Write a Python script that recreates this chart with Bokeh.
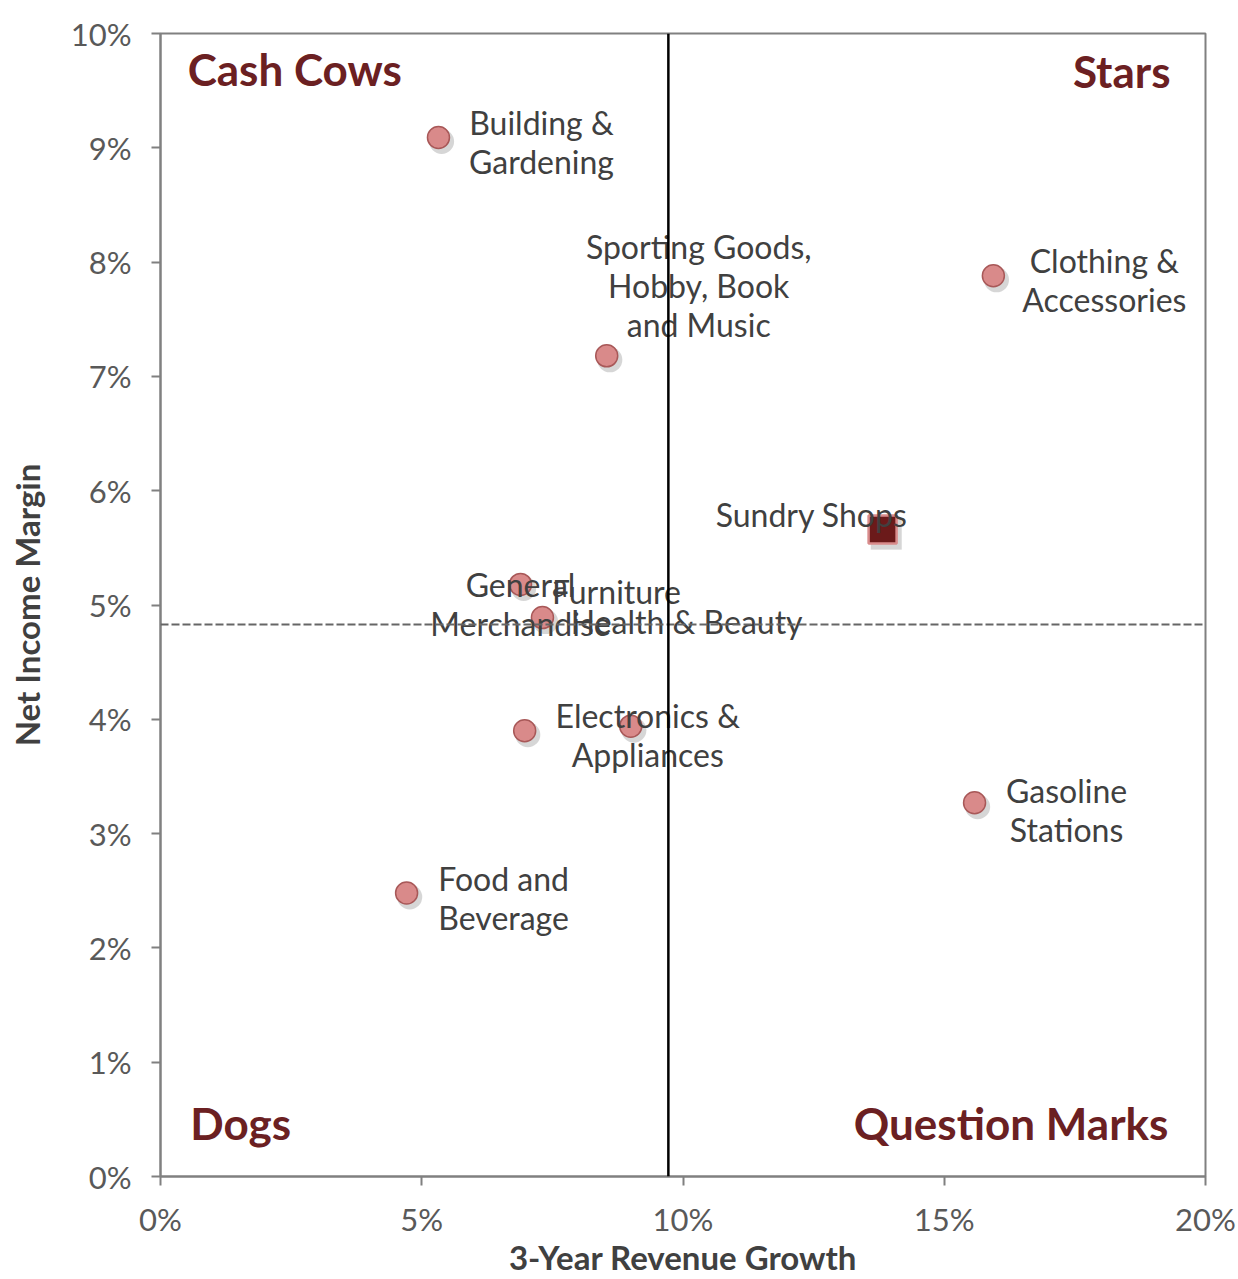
from bokeh.plotting import figure
from bokeh.models import Span, Label, PrintfTickFormatter, FixedTicker, ColumnDataSource, Range1d
from bokeh.transform import dodge
from bokeh.core.properties import value
from bokeh.embed import file_html
from bokeh.resources import INLINE

# ---------------- data ----------------
categories = ["Building &\nGardening", "Sporting Goods,\nHobby, Book\nand Music",
              "Clothing &\nAccessories", "General\nMerchandise", "Furniture",
              "Health & Beauty", "Electronics &\nAppliances", "Gasoline\nStations",
              "Food and\nBeverage"]
growth = [5.32, 8.54, 15.94, 6.89, 7.31, 6.97, 9.00, 15.58, 4.71]   # 3-year revenue growth, %
margin = [9.09, 7.18, 7.88, 5.18, 4.89, 3.90, 3.94, 3.27, 2.48]     # net income margin, %

highlight_name = ["Sundry Shops"]
highlight_growth = [13.82]
highlight_margin = [5.66]

avg_growth = 9.72
avg_margin = 4.83

x_ticks = [0, 5, 10, 15, 20]
y_ticks = [0, 1, 2, 3, 4, 5, 6, 7, 8, 9, 10]

# label offsets (screen px) - styling
label_dx = [103, 92, 111, 0, 74, 162, 17, 92, 97]
label_dy = [4, -70, 4, 20, -26, -109, 9, 7, 5]
hl_dx = [-71]
hl_dy = [-15]

FONT = "Lato"
TXT = "#404040"
RED = "#6B2022"

src = ColumnDataSource(dict(x=growth, y=margin, name=categories, dx=label_dx, dy=label_dy))
hsrc = ColumnDataSource(dict(x=highlight_growth, y=highlight_margin, name=highlight_name,
                             dx=hl_dx, dy=hl_dy))

p = figure(width=1238, height=1279, x_range=Range1d(0, 20), y_range=Range1d(0, 10),
           output_backend="svg", toolbar_location=None,
           min_border_left=160, min_border_right=33, min_border_top=33, min_border_bottom=101)

p.grid.visible = False
p.outline_line_color = "#808080"
p.outline_line_width = 2
p.background_fill_color = "white"
p.border_fill_color = "white"

for ax in (p.xaxis[0], p.yaxis[0]):
    ax.axis_line_color = "#808080"
    ax.axis_line_width = 2
    ax.major_tick_line_color = "#808080"
    ax.major_tick_line_width = 2
    ax.major_tick_in = 0
    ax.major_tick_out = 9
    ax.minor_tick_line_color = None
    ax.major_label_text_font = FONT
    ax.major_label_text_font_size = "31px"
    ax.major_label_text_color = "#595959"
    ax.axis_label_text_font = FONT
    ax.axis_label_text_font_size = "33px"
    ax.axis_label_text_font_style = "bold"
    ax.axis_label_text_color = TXT
    ax.formatter = PrintfTickFormatter(format="%d%%")

p.xaxis.ticker = FixedTicker(ticks=x_ticks)
p.yaxis.ticker = FixedTicker(ticks=y_ticks)
p.xaxis.axis_label = "3-Year Revenue Growth"
p.yaxis.axis_label = "Net Income Margin"
p.xaxis.major_label_standoff = 14
p.xaxis.axis_label_standoff = -4
p.yaxis.major_label_standoff = 20
p.yaxis.axis_label_standoff = 21

# reference lines
p.add_layout(Span(location=avg_margin, dimension="width", line_color="#666666",
                  line_width=2, line_dash="8 3"))
p.add_layout(Span(location=avg_growth, dimension="height", line_color="black", line_width=2.5))

# shadows
p.scatter(dodge("x", 0.06, range=p.x_range), dodge("y", -0.035, range=p.y_range), source=src,
          size=25, marker="circle", fill_color="#777777", fill_alpha=0.3, line_color=None)
p.scatter(dodge("x", 0.07, range=p.x_range), dodge("y", -0.04, range=p.y_range), source=hsrc,
          size=31, marker="square", fill_color="#777777", fill_alpha=0.3, line_color=None)

# points
p.scatter("x", "y", source=src, size=22, marker="circle", fill_color="#D98A8A",
          line_color="#A85858", line_width=1.5)
p.scatter("x", "y", source=hsrc, size=28, marker="square", fill_color="#6B1A1A",
          line_color="#D98C8C", line_width=2.5)

# data labels
for s in (src, hsrc):
    p.text("x", "y", text="name", source=s, x_offset="dx", y_offset="dy",
           text_align="center", text_baseline="middle", text_font=value(FONT),
           text_font_size="32px", text_color=TXT, text_line_height=1.0)

# quadrant labels
quad = dict(text_font=FONT, text_font_size="44px", text_font_style="bold", text_color=RED,
            text_baseline="middle")
p.add_layout(Label(x=0.52, y=9.69, text="Cash Cows", text_align="left", **quad))
p.add_layout(Label(x=19.33, y=9.67, text="Stars", text_align="right", **quad))
p.add_layout(Label(x=0.57, y=0.47, text="Dogs", text_align="left", **quad))
p.add_layout(Label(x=19.29, y=0.47, text="Question Marks", text_align="right", **quad))

open("out.html", "w").write(file_html(p, INLINE))
